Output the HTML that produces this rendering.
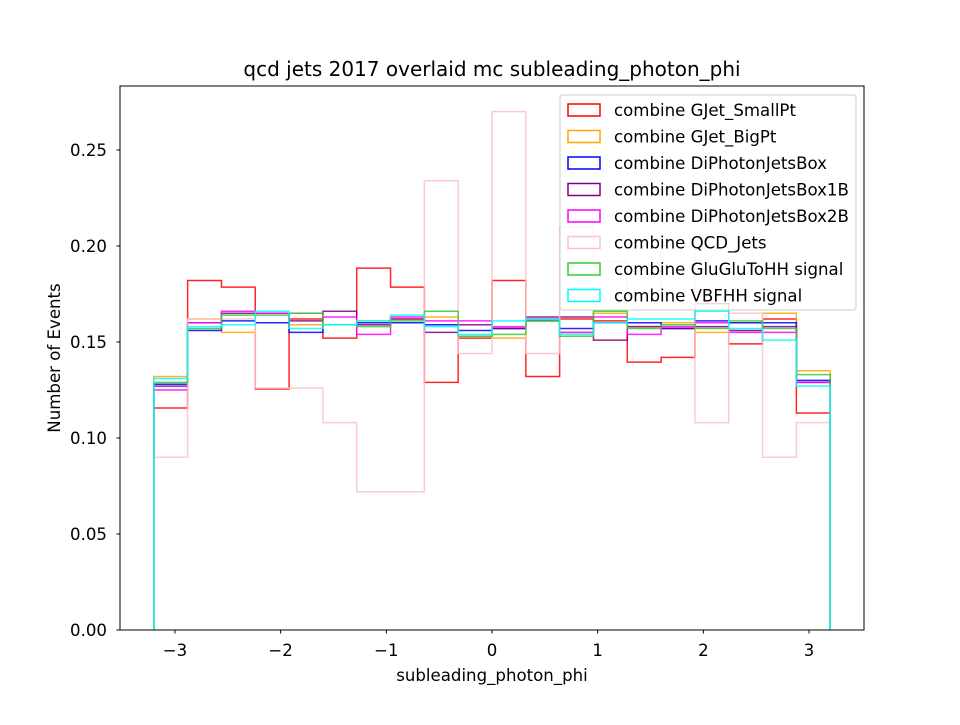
<!DOCTYPE html>
<html><head><meta charset="utf-8"><style>
body{margin:0;background:#fff;}
svg text{font-family:"DejaVu Sans","Liberation Sans",sans-serif;}
</style></head><body>
<svg id="chart" width="960" height="720" xmlns="http://www.w3.org/2000/svg">
<rect width="960" height="720" fill="#fff"/>
<g id="plot"></g>
<rect x="120" y="86" width="744" height="544" fill="none" stroke="#000" stroke-width="1"/>
<g id="axes"></g>
<text x="492" y="76" font-size="20" text-anchor="middle">qcd jets 2017 overlaid mc subleading_photon_phi</text>
<text x="492" y="681" font-size="16.6" text-anchor="middle">subleading_photon_phi</text>
<text x="60" y="358" font-size="16.6" text-anchor="middle" transform="rotate(-90 60 358)">Number of Events</text>
<g id="legend"></g>
</svg>
<script>
const binEdges=[-3.2,-2.88,-2.56,-2.24,-1.92,-1.6,-1.28,-0.96,-0.64,-0.32,0,0.32,0.64,0.96,1.28,1.6,1.92,2.24,2.56,2.88,3.2];
const seriesNames=["combine GJet_SmallPt","combine GJet_BigPt","combine DiPhotonJetsBox","combine DiPhotonJetsBox1B","combine DiPhotonJetsBox2B","combine QCD_Jets","combine GluGluToHH signal","combine VBFHH signal"];
const seriesColors=["#ff0000","orange","#0000ff","purple","magenta","pink","limegreen","cyan"];
const gjetSmall=[0.1156,0.182,0.1786,0.1255,0.162,0.152,0.1885,0.1786,0.129,0.152,0.182,0.132,0.162,0.161,0.1395,0.142,0.17,0.149,0.162,0.113];
const gjetBig=[0.132,0.162,0.155,0.165,0.159,0.159,0.161,0.162,0.163,0.153,0.152,0.162,0.155,0.165,0.158,0.16,0.155,0.16,0.165,0.135];
const dipho=[0.128,0.156,0.161,0.16,0.155,0.159,0.16,0.16,0.159,0.156,0.157,0.161,0.157,0.16,0.16,0.157,0.161,0.16,0.16,0.13];
const dipho1b=[0.127,0.16,0.165,0.165,0.161,0.166,0.159,0.162,0.155,0.159,0.157,0.163,0.163,0.151,0.158,0.157,0.158,0.156,0.158,0.129];
const dipho2b=[0.125,0.16,0.166,0.165,0.165,0.163,0.154,0.163,0.161,0.161,0.158,0.162,0.155,0.163,0.154,0.158,0.16,0.155,0.155,0.129];
const qcd=[0.09,0.162,0.162,0.126,0.126,0.108,0.072,0.072,0.234,0.144,0.27,0.144,0.21,0.192,0.175,0.2,0.108,0.165,0.09,0.108];
const gluglu=[0.129,0.157,0.164,0.164,0.165,0.159,0.158,0.161,0.166,0.153,0.154,0.161,0.153,0.166,0.157,0.159,0.157,0.161,0.157,0.133];
const vbf=[0.131,0.158,0.159,0.166,0.157,0.159,0.161,0.164,0.158,0.154,0.161,0.162,0.154,0.16,0.162,0.162,0.166,0.157,0.151,0.127];
const seriesValues=[gjetSmall,gjetBig,dipho,dipho1b,dipho2b,qcd,gluglu,vbf];
const seriesKeys=["gjet-smallpt","gjet-bigpt","diphoton-jets-box","diphoton-jets-box-1b","diphoton-jets-box-2b","qcd-jets","gluglu-hh-signal","vbf-hh-signal"];
const xTicks=[-3,-2,-1,0,1,2,3];
const xTickLabels=["−3","−2","−1","0","1","2","3"];
const yTicks=[0,0.05,0.1,0.15,0.2,0.25];
const yTickLabels=["0.00","0.05","0.10","0.15","0.20","0.25"];
const NS="http://www.w3.org/2000/svg";
const X=v=>120+(v+3.52)/7.04*744;
const Y=v=>630-v*1920;
const plot=document.getElementById('plot'),axes=document.getElementById('axes'),legend=document.getElementById('legend');
function mk(t,a,p){const e=document.createElementNS(NS,t);for(const k in a)e.setAttribute(k,a[k]);p.appendChild(e);return e;}
seriesValues.forEach((vals,s)=>{
  let d="M"+X(binEdges[0])+","+Y(0);
  vals.forEach((v,i)=>{d+=" L"+X(binEdges[i])+","+Y(v)+" L"+X(binEdges[i+1])+","+Y(v);});
  d+=" L"+X(binEdges[binEdges.length-1])+","+Y(0);
  const p=mk('path',{d:d,fill:'none',stroke:seriesColors[s],'stroke-width':1.5,opacity:0.85},plot);
  
  
});
xTicks.forEach((t,i)=>{
  const l=mk('line',{x1:X(t),x2:X(t),y1:630,y2:633.5,stroke:'#000'},axes);
  
  
  const tx=mk('text',{x:X(t),y:656,'font-size':16.6,'text-anchor':'middle'},axes);tx.textContent=xTickLabels[i];
  
  
});
yTicks.forEach((t,i)=>{
  const l=mk('line',{x1:116.5,x2:120,y1:Y(t),y2:Y(t),stroke:'#000'},axes);
  
  
  const tx=mk('text',{x:107,y:Y(t)+6,'font-size':16.6,'text-anchor':'end'},axes);tx.textContent=yTickLabels[i];
  
  
});
const box=mk('rect',{x:560,y:95,width:296,height:215,rx:3,fill:'#fff','fill-opacity':0.8,stroke:'#ccc'},legend);


seriesNames.forEach((n,i)=>{
  const y=110+i*26.5;
  const r=mk('rect',{x:568,y:y-6,width:32,height:12,fill:'none',stroke:seriesColors[i],'stroke-width':1.5},legend);
  
  
  const t=mk('text',{x:614,y:y+6,'font-size':16.6},legend);t.textContent=n;
  
  
});
</script>
</body></html>
